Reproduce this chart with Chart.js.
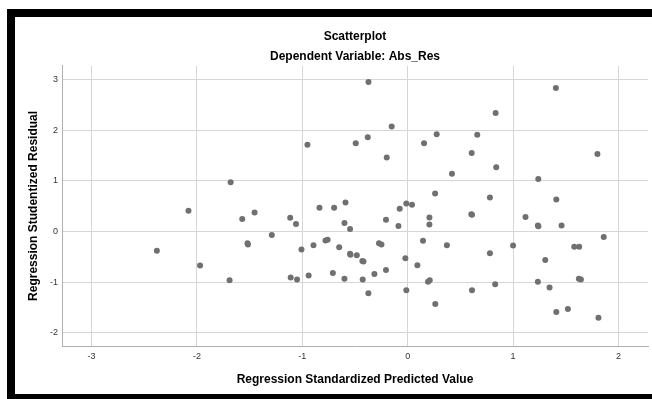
<!DOCTYPE html>
<html lang="en">
<head>
  <meta charset="UTF-8">
  <title>Scatterplot</title>
  <script src="https://cdn.jsdelivr.net/npm/chart.js"></script>
  <style>
    body { margin: 0; background: #fff; }
    #wrap { position: relative; width: 652px; height: 399px; overflow: hidden; }
    #frame {
      position: absolute; left: 7px; top: 9px; width: 645px; height: 390px;
      box-sizing: border-box; border-left: 8px solid #000; border-top: 8px solid #000;
      border-bottom: 5px solid #000; pointer-events: none;
    }
    canvas { position: absolute; left: 0; top: 0; }
  </style>
</head>
<body>
  <div id="wrap">
    <canvas id="chart" width="652" height="399"></canvas>
    <div id="frame"></div>
  </div>

  <script>
    // predicted value (x) and studentized residual (y)
    const predicted = [
      -0.372, -0.951, -0.493, -0.379, -1.68, -2.08, -0.837, -0.698, -0.59, 1.406,
      0.834, -0.152, 0.155, 0.275, 0.66, -0.199, 0.607, 1.80, 0.84, 0.42,
      1.239, 0.26, 0.78, 1.41, -0.013, 0.041, -0.076, -1.57, -1.453, -1.115,
      -1.06, -0.6, -0.547, -1.289, -1.52, -1.516, -2.38, -1.008, -0.894, -0.78,
      -0.76, -0.65, -0.547, -0.543, -0.483, -0.43, -0.42, -0.272, -0.249, -1.97,
      -1.69, -1.11, -1.05, -0.94, -0.71, -0.6, -0.427, -0.316, -0.373, -0.206,
      -0.088, 0.206, 0.206, 0.604, 0.61, 1.118, 1.235, 1.24, 1.46, 1.86,
      0.145, 0.372, 1.0, 1.58, 1.627, -0.022, 0.092, 0.78, 1.305, -0.206,
      0.193, 0.209, 0.83, 1.235, 1.346, 1.624, 1.643, -0.013, 0.61, 0.262,
      1.41, 1.52, 1.81
    ];
    const residual = [
      2.95, 1.71, 1.74, 1.86, 0.97, 0.41, 0.47, 0.47, 0.57, 2.83,
      2.34, 2.07, 1.74, 1.92, 1.91, 1.46, 1.55, 1.53, 1.27, 1.14,
      1.035, 0.75, 0.67, 0.63, 0.55, 0.53, 0.45, 0.245, 0.375, 0.27,
      0.146, 0.166, 0.05, -0.07, -0.23, -0.257, -0.38, -0.355, -0.27, -0.18,
      -0.164, -0.31, -0.44, -0.46, -0.47, -0.58, -0.59, -0.23, -0.257, -0.67,
      -0.96, -0.91, -0.95, -0.87, -0.82, -0.935, -0.95, -0.84, -1.22, 0.23,
      0.11, 0.277, 0.14, 0.34, 0.33, 0.284, 0.12, 0.105, 0.12, -0.11,
      -0.184, -0.27, -0.277, -0.30, -0.30, -0.53, -0.665, -0.43, -0.565, -0.76,
      -0.99, -0.96, -1.04, -0.99, -1.106, -0.935, -0.95, -1.16, -1.16, -1.43,
      -1.59, -1.53, -1.70
    ];
    const xTicks = [-3, -2, -1, 0, 1, 2];
    const yTicks = [-2, -1, 0, 1, 2, 3];

    const points = predicted.map((x, i) => ({ x: x, y: residual[i] }));
    const font = "'Liberation Sans', Arial, sans-serif";

    new Chart(document.getElementById('chart'), {
      type: 'scatter',
      data: {
        datasets: [{
          data: points,
          backgroundColor: '#707070',
          borderWidth: 0,
          pointRadius: 3
        }]
      },
      options: {
        responsive: false,
        animation: false,
        devicePixelRatio: 1,
        layout: { padding: { left: 15, right: 3, top: 17, bottom: 5 } },
        plugins: {
          legend: { display: false },
          tooltip: { enabled: false },
          title: {
            display: true, text: 'Scatterplot', fullSize: false, color: '#000',
            font: { family: font, size: 12, weight: 'bold' },
            padding: { top: 12, bottom: 4 }
          },
          subtitle: {
            display: true, text: 'Dependent Variable: Abs_Res', fullSize: false, color: '#000',
            font: { family: font, size: 12, weight: 'bold' },
            padding: { top: 2, bottom: 2 }
          }
        },
        scales: {
          x: {
            type: 'linear', min: -3.28, max: 2.28,
            afterBuildTicks: s => { s.ticks = xTicks.map(v => ({ value: v })); },
            afterFit: s => { s.height = 48; },
            grid: { color: '#d6d6d6', drawTicks: false },
            border: { color: '#b0b0b0' },
            ticks: { padding: 5, color: '#333', font: { family: font, size: 9 } },
            title: {
              display: true, text: 'Regression Standardized Predicted Value', color: '#000',
              font: { family: font, size: 12, weight: 'bold' },
              padding: { top: 4, bottom: 7 }
            }
          },
          y: {
            type: 'linear', min: -2.26, max: 3.27,
            afterBuildTicks: s => { s.ticks = yTicks.map(v => ({ value: v })); },
            afterFit: s => { s.width = 47; },
            grid: { color: '#d6d6d6', drawTicks: false },
            border: { color: '#b0b0b0' },
            ticks: { padding: 4, color: '#333', font: { family: font, size: 9 } },
            title: {
              display: true, text: 'Regression Studentized Residual', color: '#000',
              font: { family: font, size: 12, weight: 'bold' },
              padding: { top: 11, bottom: 4 }
            }
          }
        }
      }
    });
  </script>
</body>
</html>
